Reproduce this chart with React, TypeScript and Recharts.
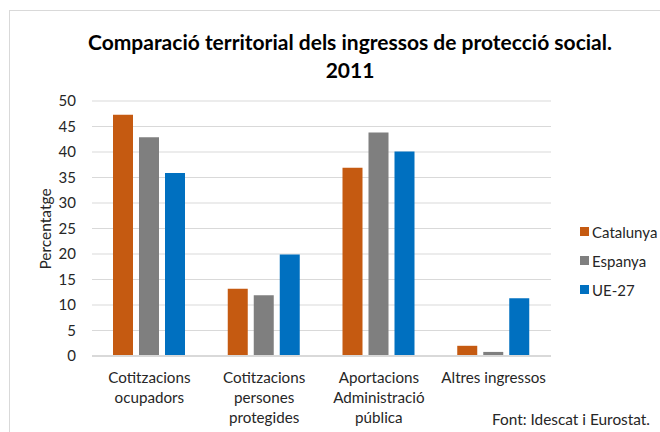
import React from "react";
import { BarChart, Bar, XAxis, YAxis, CartesianGrid } from "recharts";

const categories = [
  "Cotitzacions ocupadors",
  "Cotitzacions persones protegides",
  "Aportacions Administració pública",
  "Altres ingressos",
];
const tickLines = [
  ["Cotitzacions", "ocupadors"],
  ["Cotitzacions", "persones", "protegides"],
  ["Aportacions", "Administració", "pública"],
  ["Altres ingressos"],
];
const catalunya = [47.3, 13.2, 36.9, 2.0];
const espanya = [42.9, 11.9, 43.8, 0.8];
const ue27 = [35.9, 19.9, 40.1, 11.3];
const yTicks = [0, 5, 10, 15, 20, 25, 30, 35, 40, 45, 50];

const series = [
  { key: "catalunya", name: "Catalunya", color: "#C55A11" },
  { key: "espanya", name: "Espanya", color: "#7F7F7F" },
  { key: "ue27", name: "UE-27", color: "#0070C0" },
];

const data = categories.map((c, i) => ({
  name: c,
  catalunya: catalunya[i],
  espanya: espanya[i],
  ue27: ue27[i],
}));

const FONT = "Lato, 'Noto Sans', sans-serif";

function CategoryTick({ x, y, payload }: any) {
  const idx = categories.indexOf(payload.value);
  const lines = tickLines[idx] || [payload.value];
  return (
    <text x={x} y={y + 19} textAnchor="middle" fill="#262626" fontSize={15.2} fontFamily={FONT}>
      {lines.map((l, i) => (
        <tspan key={i} x={x} dy={i === 0 ? 0 : 20}>
          {l}
        </tspan>
      ))}
    </text>
  );
}

export default function App() {
  return (
    <div style={{ position: "fixed", left: 0, top: 0, width: 660, height: 432, background: "#fff", overflow: "hidden" }}>
      <div
        style={{
          position: "absolute",
          left: 9,
          top: 10,
          width: 700,
          height: 500,
          borderLeft: "1.5px solid #d9d9d9",
          borderTop: "1.5px solid #d9d9d9",
        }}
      />
      <div
        style={{
          position: "absolute",
          left: 0,
          top: 28,
          width: 700,
          textAlign: "center",
          fontFamily: FONT,
          fontWeight: 700,
          fontSize: 21,
          lineHeight: "28px",
          color: "#000",
        }}
      >
        Comparació territorial dels ingressos de protecció social.
        <br />
        2011
      </div>
      <div
        style={{
          position: "absolute",
          left: 45,
          top: 229,
          transform: "translate(-50%, -50%) rotate(-90deg)",
          fontFamily: FONT,
          fontSize: 15.5,
          color: "#262626",
          whiteSpace: "nowrap",
        }}
      >
        Percentatge
      </div>
      <div
        style={{
          position: "absolute",
          right: 10,
          top: 410,
          fontFamily: FONT,
          fontSize: 15.4,
          color: "#262626",
        }}
      >
        Font: Idescat i Eurostat.
      </div>
      <div
        style={{
          position: "absolute",
          left: 580,
          top: 217,
          fontFamily: FONT,
          fontSize: 15,
          color: "#262626",
        }}
      >
        {series.map((s) => (
          <div key={s.key} style={{ display: "flex", alignItems: "center", height: 29 }}>
            <span style={{ width: 9, height: 9, background: s.color, marginRight: 3 }} />
            {s.name}
          </div>
        ))}
      </div>
      <div style={{ position: "absolute", left: 0, top: 0 }}>
        <BarChart
          width={660}
          height={432}
          data={data}
          margin={{ top: 101, right: 109, bottom: 0, left: 40 }}
          barGap={6}
          barSize={20}
        >
          <CartesianGrid vertical={false} stroke="#d9d9d9" strokeWidth={1.2} />
          <XAxis
            dataKey="name"
            height={76}
            interval={0}
            tickLine={false}
            axisLine={{ stroke: "#d9d9d9", strokeWidth: 2 }}
            tick={<CategoryTick />}
          />
          <YAxis
            width={52}
            domain={[0, 50]}
            ticks={yTicks}
            axisLine={false}
            tickLine={false}
            tick={{ fill: "#262626", fontSize: 15, fontFamily: FONT }}
            tickMargin={10}
          />
          {series.map((s) => (
            <Bar key={s.key} dataKey={s.key} name={s.name} fill={s.color} isAnimationActive={false} />
          ))}
        </BarChart>
      </div>
    </div>
  );
}
